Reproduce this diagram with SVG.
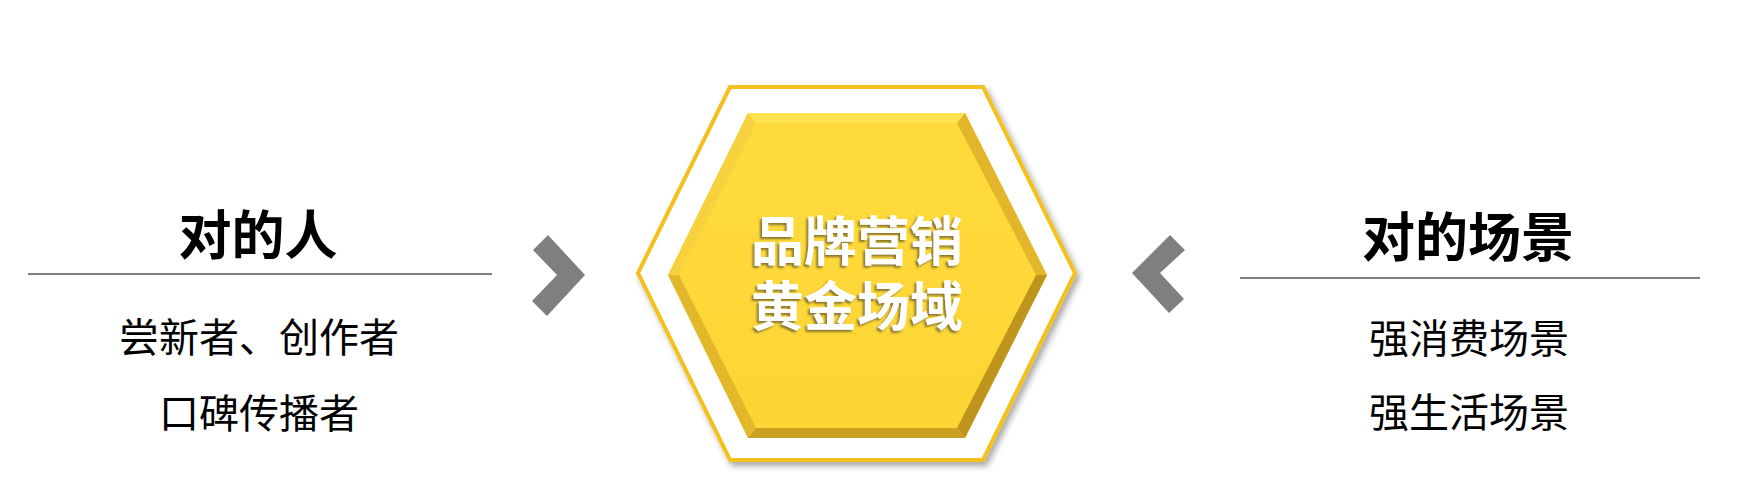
<svg xmlns="http://www.w3.org/2000/svg" width="1746" height="500" viewBox="0 0 1746 500">
  <defs>
    <filter id="hexShadow" x="-10%" y="-10%" width="120%" height="120%">
      <feDropShadow dx="3" dy="4" stdDeviation="3" flood-color="#000" flood-opacity="0.35"/>
    </filter>
    <filter id="txtShadow" x="-10%" y="-20%" width="120%" height="140%">
      <feDropShadow dx="-2" dy="2" stdDeviation="0.8" flood-color="#6b5a2a" flood-opacity="0.8"/>
    </filter>
    <linearGradient id="face" x1="0" y1="0" x2="0" y2="1">
      <stop offset="0" stop-color="#FEDB3C"/>
      <stop offset="1" stop-color="#FCD534"/>
    </linearGradient>
  </defs>
  <style>
    .head { font-family: "Noto Sans CJK SC", "Noto Sans", sans-serif; font-weight: 700; font-size: 53px; fill: #000; text-anchor: middle; }
    .item { font-family: "Noto Sans CJK SC", "Noto Sans", sans-serif; font-weight: 400; font-size: 40px; fill: #000; text-anchor: middle; }
    .center { font-family: "Noto Sans CJK SC", "Noto Sans", sans-serif; font-weight: 700; font-size: 53px; fill: #fff; text-anchor: middle; }
    .rule { stroke: #000; stroke-width: 1.2; }
    .chev { fill: #7F7F7F; }
  </style>
  <rect width="1746" height="500" fill="#fff"/>

  <g id="hexagon">
    <polygon points="730,87 983,87 1075,273 983,460 730,460 638,273" fill="#fff" stroke="#F4C11C" stroke-width="4" filter="url(#hexShadow)"/>
    <polygon points="748,113 965,113 1047,275 965,438 748,438 668,275" fill="url(#face)"/>
    <polygon points="748,113 965,113 957,123 756,123" fill="#FFE350"/>
    <polygon points="965,113 1047,275 1036,275 957,123" fill="#E3B52B"/>
    <polygon points="1047,275 965,438 957,428 1036,275" fill="#BE951C"/>
    <polygon points="965,438 748,438 756,428 957,428" fill="#C9A020"/>
    <polygon points="748,438 668,275 679,275 756,428" fill="#E2B82A"/>
    <polygon points="668,275 748,113 756,123 679,275" fill="#F7D23E"/>
    <text class="center" filter="url(#txtShadow)" x="857" y="261">品牌营销<tspan x="857" dy="65">黄金场域</tspan></text>
  </g>

  <g id="left-panel">
    <text class="head" x="258" y="255">对的人</text>
    <line class="rule" x1="28" y1="274" x2="492" y2="274"/>
    <text class="item" x="259" y="352">尝新者、创作者</text>
    <text class="item" x="259" y="428">口碑传播者</text>
  </g>

  <g id="right-panel">
    <text class="head" x="1468" y="257">对的场景</text>
    <line class="rule" x1="1240" y1="278" x2="1700" y2="278"/>
    <text class="item" x="1469" y="353">强消费场景</text>
    <text class="item" x="1469" y="427">强生活场景</text>
  </g>

  <g id="connectors">
    <polygon class="chev" points="533,250 548,235 585,275 547,316 532,301 557,275"/>
    <polygon class="chev" points="1185,250 1170,235 1132,273 1169,313 1184,299 1160,273"/>
  </g>
</svg>
